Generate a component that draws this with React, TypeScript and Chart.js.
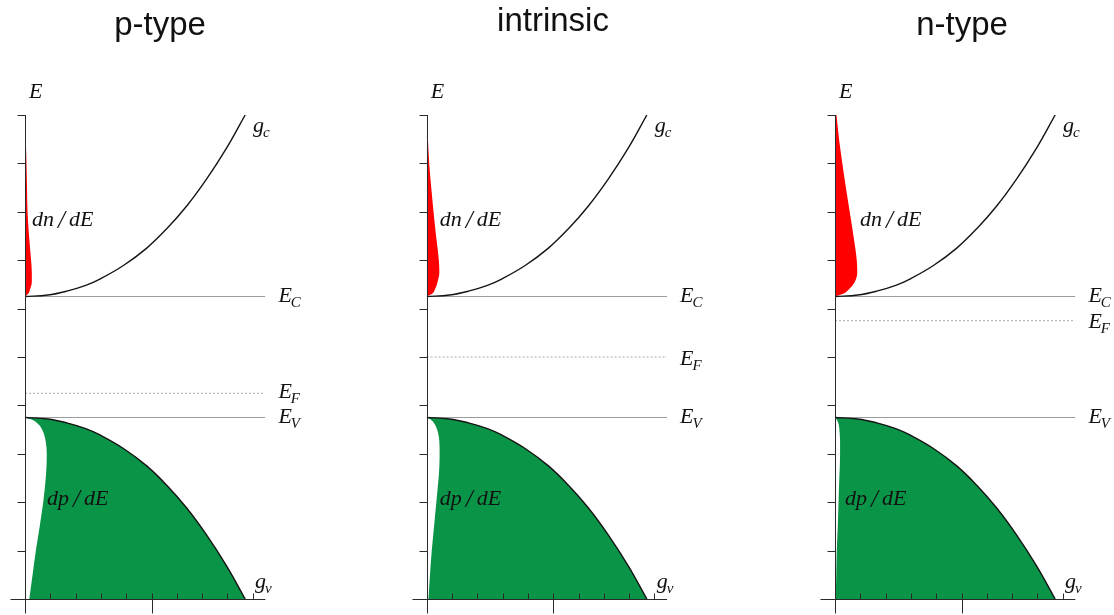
import React, { useEffect, useRef } from "react";
import { Chart, registerables } from "chart.js";

Chart.register(...registerables);

// ---------------- data ----------------
const panelTitles = ["p-type", "intrinsic", "n-type"];
const conductionEdge = 6.25;
const valenceEdge = 3.75;
const fermiLevels = [4.25, 5.0, 5.75];

const energyTicks = [1, 2, 3, 4, 5, 6, 7, 8, 9, 10];
const densityTicks = [1, 2, 3, 4, 5, 6, 7, 8, 9];
const densityMajorTicks = [5];
const energyRange = [0, 10];
const densityRange = [0, 9.5];

// density of states curves (g_c above E_C, g_v below E_V)
const gcEnergy = [6.25, 6.28, 6.36, 6.48, 6.61, 6.89, 7.25, 7.65, 8.12, 8.68, 9.32, 10.0];
const gvEnergy = [3.75, 3.72, 3.64, 3.52, 3.39, 3.11, 2.75, 2.35, 1.88, 1.32, 0.68, 0.0];
const bandDensity = [0, 0.9, 1.65, 2.4, 2.96, 3.89, 4.81, 5.6, 6.39, 7.18, 7.97, 8.7];

// electron distribution dn/dE (red)
const electronEnergy = [6.25, 6.3, 6.4, 6.55, 6.75, 7.0, 7.5, 8.0, 8.5, 9.0, 9.5, 10.0];
const electronP = [0, 0.12, 0.2, 0.27, 0.27, 0.24, 0.16, 0.1, 0.08, 0.06, 0.03, 0.01];
const electronI = [0, 0.2, 0.33, 0.43, 0.5, 0.48, 0.37, 0.27, 0.18, 0.1, 0.05, 0.02];
const electronN = [0, 0.3, 0.55, 0.78, 0.88, 0.86, 0.73, 0.58, 0.43, 0.29, 0.16, 0.06];

// left (white) edge of the green valence-band area
const holeEnergy = [3.75, 3.7, 3.6, 3.45, 3.25, 3.0, 2.75, 2.5, 2.0, 1.5, 1.0, 0.5, 0.0];
const holeP = [0, 0.3, 0.55, 0.72, 0.82, 0.86, 0.85, 0.82, 0.72, 0.58, 0.43, 0.3, 0.17];
const holeI = [0, 0.18, 0.33, 0.44, 0.5, 0.51, 0.5, 0.47, 0.38, 0.29, 0.2, 0.13, 0.07];
const holeN = [0, 0.08, 0.15, 0.18, 0.2, 0.2, 0.19, 0.17, 0.14, 0.11, 0.07, 0.05, 0.03];

const electronSeries = [electronP, electronI, electronN];
const holeSeries = [holeP, holeI, holeN];

// ---------------- layout / style ----------------
const CANVAS_H = 615;
const PLOT_TOP = 115;
const PLOT_BOTTOM = 599;
const PLOT_WIDTH = 240.4;

const panelLayout = [
  { canvasLeft: 0, canvasWidth: 320, axisLeft: 25, titleBaseline: 35, dnDx: 7, dpDx: 22, efDy: 5 },
  { canvasLeft: 400, canvasWidth: 306, axisLeft: 426.7, titleBaseline: 31, dnDx: 13, dpDx: 13, efDy: 8 },
  { canvasLeft: 810, canvasWidth: 304, axisLeft: 835, titleBaseline: 35, dnDx: 25, dpDx: 10, efDy: 7 },
];

const RED = "#ff0000";
const GREEN = "#0a9447";
const CURVE = "#151515";
const LEVEL = "#9c9c9c";
const AXIS = "#2a2a2a";
const SERIF = '"Liberation Serif", "Times New Roman", serif';
const SANS = '"Liberation Sans", Arial, sans-serif';

const toPoints = (xs: number[], ys: number[]) => xs.map((x, i) => ({ x, y: ys[i] }));

function drawSymbol(ctx: CanvasRenderingContext2D, main: string, sub: string, x: number, y: number) {
  ctx.font = `italic 22px ${SERIF}`;
  ctx.fillText(main, x, y);
  const w = ctx.measureText(main).width;
  ctx.font = `italic 15px ${SERIF}`;
  ctx.fillText(sub, x + w - 1, y + 5);
}

function drawRatio(ctx: CanvasRenderingContext2D, a: string, b: string, x: number, y: number) {
  ctx.font = `italic 22px ${SERIF}`;
  ctx.fillText(a, x, y);
  let cx = x + ctx.measureText(a).width + 4;
  ctx.font = `italic 25px ${SERIF}`;
  ctx.fillText("/", cx, y + 2);
  cx += ctx.measureText("/").width + 4;
  ctx.font = `italic 22px ${SERIF}`;
  ctx.fillText(b, cx, y);
}

function makeDecor(index: number) {
  const L = panelLayout[index];
  return {
    id: "decor" + index,
    afterDatasetsDraw(chart: any) {
      const ctx: CanvasRenderingContext2D = chart.ctx;
      const xs = chart.scales.x;
      const ys = chart.scales.y;
      const ax = Math.round(xs.getPixelForValue(0)) + 0.5;
      const y0 = Math.round(ys.getPixelForValue(energyRange[0])) + 0.5;
      const yTop = Math.round(ys.getPixelForValue(energyRange[1]));
      const xEnd = xs.getPixelForValue(densityRange[1]);
      ctx.save();
      ctx.strokeStyle = AXIS;
      ctx.lineWidth = 1;
      ctx.beginPath();
      ctx.moveTo(ax, yTop);
      ctx.lineTo(ax, y0 + 14);
      ctx.moveTo(ax - 15, y0);
      ctx.lineTo(xEnd, y0);
      for (const e of energyTicks) {
        const py = Math.round(ys.getPixelForValue(e)) + 0.5;
        ctx.moveTo(ax - 8, py);
        ctx.lineTo(ax, py);
      }
      for (const d of densityTicks) {
        const px = Math.round(xs.getPixelForValue(d)) + 0.5;
        const major = densityMajorTicks.includes(d);
        ctx.moveTo(px, y0 - 6);
        ctx.lineTo(px, major ? y0 + 14 : y0);
      }
      ctx.stroke();

      // title
      ctx.fillStyle = "#111";
      ctx.textAlign = "center";
      ctx.textBaseline = "alphabetic";
      ctx.font = `33px ${SANS}`;
      ctx.fillText(panelTitles[index], chart.width / 2, L.titleBaseline);

      ctx.textAlign = "left";
      const top = ys.getPixelForValue(energyRange[1]);
      const bottom = ys.getPixelForValue(energyRange[0]);
      const axX = xs.getPixelForValue(0);
      // axis label
      ctx.font = `italic 22px ${SERIF}`;
      ctx.fillText("E", axX + 4, top - 17);
      // g_c, g_v
      drawSymbol(ctx, "g", "c", axX + 228, top + 17);
      drawSymbol(ctx, "g", "v", axX + 230, bottom - 11);
      // distributions
      drawRatio(ctx, "dn", "dE", axX + L.dnDx, ys.getPixelForValue(7.7));
      drawRatio(ctx, "dp", "dE", axX + L.dpDx, ys.getPixelForValue(1.95));
      // levels
      const lx = xEnd + 13;
      drawSymbol(ctx, "E", "C", lx, ys.getPixelForValue(conductionEdge) + 5);
      drawSymbol(ctx, "E", "F", lx, ys.getPixelForValue(fermiLevels[index]) + L.efDy);
      drawSymbol(ctx, "E", "V", lx, ys.getPixelForValue(valenceEdge) + 5);
      ctx.restore();
    },
  };
}

function Panel({ index }: { index: number }) {
  const ref = useRef<HTMLCanvasElement | null>(null);
  const L = panelLayout[index];
  useEffect(() => {
    const canvas = ref.current;
    if (!canvas) return;
    const padLeft = L.axisLeft - L.canvasLeft;
    const padRight = L.canvasWidth - padLeft - PLOT_WIDTH;
    const chart = new Chart(canvas, {
      type: "line",
      data: {
        datasets: [
          {
            data: toPoints(bandDensity, gcEnergy),
            borderColor: CURVE,
            borderWidth: 1.4,
            fill: false,
            tension: 0.4,
          },
          {
            data: toPoints(bandDensity, gvEnergy),
            borderColor: CURVE,
            borderWidth: 1.4,
            backgroundColor: GREEN,
            fill: 2,
            tension: 0.4,
          },
          {
            data: toPoints(holeSeries[index], holeEnergy),
            borderColor: "rgba(0,0,0,0)",
            borderWidth: 1,
            fill: false,
            cubicInterpolationMode: "monotone",
          },
          {
            data: toPoints(electronSeries[index], electronEnergy),
            borderColor: "rgba(0,0,0,0)",
            borderWidth: 1,
            backgroundColor: RED,
            fill: "origin",
            cubicInterpolationMode: "monotone",
          },
          {
            data: [
              { x: densityRange[0], y: conductionEdge },
              { x: densityRange[1], y: conductionEdge },
            ],
            borderColor: LEVEL,
            borderWidth: 1,
            fill: false,
          },
          {
            data: [
              { x: densityRange[0], y: valenceEdge },
              { x: densityRange[1], y: valenceEdge },
            ],
            borderColor: LEVEL,
            borderWidth: 1,
            fill: false,
          },
          {
            data: [
              { x: densityRange[0], y: fermiLevels[index] },
              { x: densityRange[1], y: fermiLevels[index] },
            ],
            borderColor: "#a8a8a8",
            borderWidth: 1,
            borderDash: [2, 2],
            fill: false,
          },
        ],
      },
      options: {
        responsive: false,
        animation: false,
        indexAxis: "y",
        events: [],
        layout: {
          padding: { left: padLeft, right: padRight, top: PLOT_TOP, bottom: CANVAS_H - PLOT_BOTTOM },
        },
        scales: {
          x: { type: "linear", min: densityRange[0], max: densityRange[1], display: false },
          y: { type: "linear", min: energyRange[0], max: energyRange[1], display: false },
        },
        elements: { point: { radius: 0 }, line: { tension: 0 } },
        plugins: {
          legend: { display: false },
          tooltip: { enabled: false },
          title: { display: false },
        },
      },
      plugins: [makeDecor(index)],
    } as any);
    return () => chart.destroy();
  }, [index]);
  return (
    <canvas
      ref={ref}
      width={L.canvasWidth}
      height={CANVAS_H}
      style={{ position: "absolute", left: L.canvasLeft, top: 0, width: L.canvasWidth, height: CANVAS_H }}
    />
  );
}

export default function App() {
  return (
    <div style={{ position: "absolute", left: 0, top: 0, width: 1114, height: 615, background: "#fff", overflow: "hidden" }}>
      {panelLayout.map((_, i) => (
        <Panel key={i} index={i} />
      ))}
    </div>
  );
}
